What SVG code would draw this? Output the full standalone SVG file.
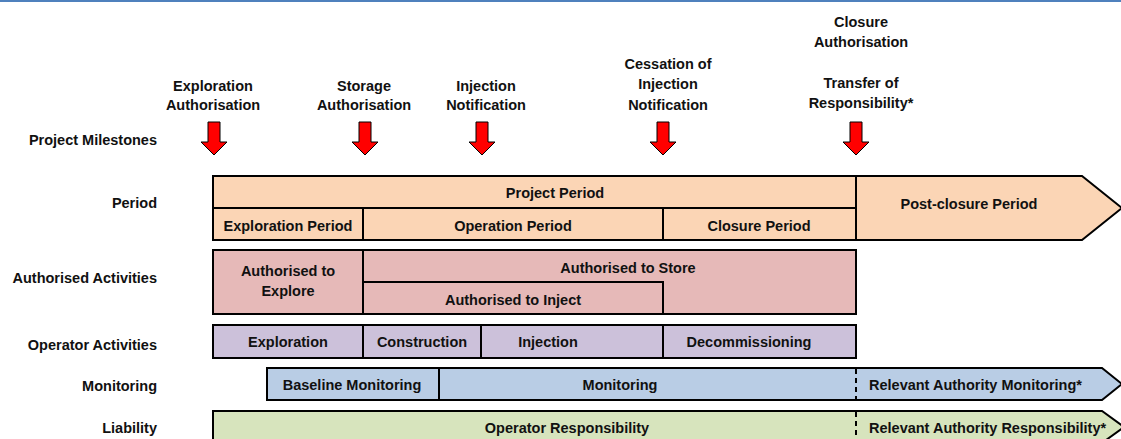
<svg xmlns="http://www.w3.org/2000/svg" width="1121" height="439" viewBox="0 0 1121 439">
<defs>
<style>
text{font-family:"Liberation Sans",Arial,sans-serif;font-weight:bold;font-size:14.5px;fill:#111;}
.c{text-anchor:middle;}
.r{text-anchor:end;}
.box{stroke:#000;stroke-width:2;}
.ln{stroke:#000;stroke-width:2;fill:none;}
.dash{stroke:#000;stroke-width:2;stroke-dasharray:5,4;fill:none;}
.arw{fill:#FF0000;stroke:#000;stroke-width:1;}
.per{fill:#FBD5B5;}
.aut{fill:#E6B9B8;}
.opr{fill:#CCC1DA;}
.mon{fill:#B9CDE5;}
.lia{fill:#D7E4BD;}
</style>
<path id="arrow" class="arw" d="M-6,0 H6 V20 H13 L0,33 L-13,20 H-6 Z"/>
</defs>
<rect x="0" y="0" width="1121" height="439" fill="#fff"/>
<line x1="0" y1="1" x2="1121" y2="1" stroke="#4F81BD" stroke-width="2"/>

<g id="row-labels">
<text class="r" x="157" y="145">Project Milestones</text>
<text class="r" x="157" y="208">Period</text>
<text class="r" x="157" y="283">Authorised Activities</text>
<text class="r" x="157" y="350">Operator Activities</text>
<text class="r" x="157" y="391">Monitoring</text>
<text class="r" x="157" y="433">Liability</text>
</g>

<g id="milestone-exploration">
<text class="c" x="213" y="91">Exploration</text>
<text class="c" x="213" y="110">Authorisation</text>
<use href="#arrow" x="214" y="122"/>
</g>
<g id="milestone-storage">
<text class="c" x="364" y="91">Storage</text>
<text class="c" x="364" y="110">Authorisation</text>
<use href="#arrow" x="365" y="122"/>
</g>
<g id="milestone-injection">
<text class="c" x="486" y="91">Injection</text>
<text class="c" x="486" y="110">Notification</text>
<use href="#arrow" x="482" y="122"/>
</g>
<g id="milestone-cessation">
<text class="c" x="668" y="69">Cessation of</text>
<text class="c" x="668" y="89">Injection</text>
<text class="c" x="668" y="110">Notification</text>
<use href="#arrow" x="663" y="122"/>
</g>
<g id="milestone-closure">
<text class="c" x="861" y="27">Closure</text>
<text class="c" x="861" y="47">Authorisation</text>
<text class="c" x="861" y="88">Transfer of</text>
<text class="c" x="861" y="108">Responsibility*</text>
<use href="#arrow" x="856" y="122"/>
</g>

<g id="period">
<rect class="box per" x="213" y="176" width="643" height="64"/>
<line class="ln" x1="213" y1="208" x2="856" y2="208"/>
<line class="ln" x1="363" y1="208" x2="363" y2="240"/>
<line class="ln" x1="663" y1="208" x2="663" y2="240"/>
<text class="c" x="555" y="198">Project Period</text>
<text class="c" x="288" y="231">Exploration Period</text>
<text class="c" x="513" y="231">Operation Period</text>
<text class="c" x="759" y="231">Closure Period</text>
</g>
<g id="post-closure">
<polygon class="box per" points="856,176 1082,176 1122,208 1082,240 856,240"/>
<text class="c" x="969" y="209">Post-closure Period</text>
</g>

<g id="authorised">
<rect class="box aut" x="213" y="250" width="643" height="64"/>
<line class="ln" x1="363" y1="250" x2="363" y2="314"/>
<polyline class="ln" points="363,282 663,282 663,314"/>
<text class="c" x="288" y="276">Authorised to</text>
<text class="c" x="288" y="296">Explore</text>
<text class="c" x="628" y="273">Authorised to Store</text>
<text class="c" x="513" y="305">Authorised to Inject</text>
</g>

<g id="operator">
<rect class="box opr" x="213" y="325" width="643" height="33"/>
<line class="ln" x1="363" y1="325" x2="363" y2="358"/>
<line class="ln" x1="481" y1="325" x2="481" y2="358"/>
<line class="ln" x1="663" y1="325" x2="663" y2="358"/>
<text class="c" x="288" y="347">Exploration</text>
<text class="c" x="422" y="347">Construction</text>
<text class="c" x="548" y="347">Injection</text>
<text class="c" x="749" y="347">Decommissioning</text>
</g>

<g id="monitoring">
<polygon class="box mon" points="267,368 1102,368 1122,384 1102,400 267,400"/>
<line class="ln" x1="439" y1="368" x2="439" y2="400"/>
<line class="dash" x1="856" y1="369" x2="856" y2="399"/>
<text class="c" x="352" y="390">Baseline Monitoring</text>
<text class="c" x="620" y="390">Monitoring</text>
<text x="869" y="390">Relevant Authority Monitoring*</text>
</g>

<g id="liability">
<polygon class="box lia" points="213,411 1102,411 1124,427 1102,443 213,443"/>
<line class="dash" x1="856" y1="412" x2="856" y2="442"/>
<text class="c" x="567" y="433">Operator Responsibility</text>
<text x="869" y="433">Relevant Authority Responsibility*</text>
</g>

<g id="connectors"/>
</svg>
